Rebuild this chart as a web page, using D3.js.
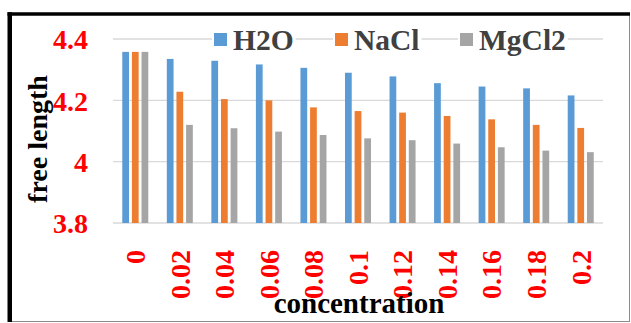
<!DOCTYPE html>
<html><head><meta charset="utf-8">
<script src="https://cdn.jsdelivr.net/npm/d3@7"></script>
<style>body{margin:0;background:#fff}svg{display:block}</style>
</head><body>
<script>
const categories = ["0","0.02","0.04","0.06","0.08","0.1","0.12","0.14","0.16","0.18","0.2"];
const seriesNames = ["H2O","NaCl","MgCl2"];
const h2o   = [4.358,4.335,4.329,4.317,4.306,4.290,4.278,4.256,4.245,4.239,4.216];
const nacl  = [4.358,4.228,4.204,4.200,4.177,4.165,4.160,4.149,4.138,4.120,4.110];
const mgcl2 = [4.358,4.120,4.109,4.098,4.087,4.076,4.070,4.059,4.047,4.036,4.031];
const yTicks = [3.8,4.0,4.2,4.4];
const colors = ["#5b9bd5","#ed7d31","#a5a5a5"];
const seriesVals = [h2o,nacl,mgcl2];

const W=631,H=323;
const svg=d3.select("body").append("svg").attr("width",W).attr("height",H);
const font="'Liberation Serif','Times New Roman',serif";

const x0=d3.scaleBand().domain(categories).range([113,603]).paddingInner(0.416).paddingOuter(0.208);
const x1=d3.scaleBand().domain(seriesNames).range([0,x0.bandwidth()]).paddingInner(0.3);
const y=d3.scaleLinear().domain([3.8,4.4]).range([223,39]);

// gridlines
svg.append("g").selectAll("line").data(yTicks).join("line")
  .attr("x1",113).attr("x2",603).attr("y1",d=>y(d)).attr("y2",d=>y(d))
  .attr("stroke","#d9d9d9").attr("stroke-width",1.3);

// bars
const g=svg.append("g");
seriesNames.forEach((s,si)=>{
  g.append("g").selectAll("rect").data(categories).join("rect")
    .attr("x",c=>x0(c)+x1(s)).attr("width",x1.bandwidth())
    .attr("y",(c,i)=>y(seriesVals[si][i]))
    .attr("height",(c,i)=>y(3.8)-y(seriesVals[si][i]))
    .attr("fill",colors[si]);
});

// y tick labels
const yAxis=d3.axisLeft(y).tickValues(yTicks).tickFormat(d=>d===4?"4":d3.format(".1f")(d)).tickSize(0).tickPadding(0);
const ya=svg.append("g").attr("transform","translate(88,0)").call(yAxis);
ya.select(".domain").remove();
ya.selectAll("text").attr("font-family",font).attr("font-weight","bold").attr("font-size",28).attr("fill","#ff0000").attr("dy","0.35em");

// x tick labels
const xAxis=d3.axisBottom(x0).tickSize(0).tickPadding(0);
const xa=svg.append("g").attr("transform","translate(0,250)").call(xAxis);
xa.select(".domain").remove();
xa.selectAll("text").attr("font-family",font).attr("font-weight","bold").attr("font-size",28).attr("fill","#ff0000")
  .attr("transform","rotate(-90)").attr("text-anchor","end").attr("x",0).attr("y",0).attr("dy","0.35em");

// axis titles
svg.append("text").attr("transform","translate(37,139) rotate(-90)").attr("text-anchor","middle").attr("dy","0.35em")
  .attr("font-family",font).attr("font-weight","bold").attr("font-size",28).attr("fill","#000").text("free length");
svg.append("text").attr("x",359).attr("y",313).attr("text-anchor","middle")
  .attr("font-family",font).attr("font-weight","bold").attr("font-size",29).attr("fill","#000").text("concentration");

// legend
const legX=[214,335,460];
const leg=svg.append("g");
seriesNames.forEach((s,i)=>{
  const it=leg.append("g");
  const bg=it.append("rect").attr("fill","#fff");
  it.append("rect").attr("x",legX[i]).attr("y",33).attr("width",13).attr("height",13).attr("fill",colors[i]);
  const t=it.append("text").attr("x",legX[i]+19).attr("y",49.5).attr("font-family",font).attr("font-weight","bold")
    .attr("font-size",29.5).attr("fill","#404040").text(s);
  const bb=t.node().getBBox();
  bg.attr("x",legX[i]-2).attr("y",30).attr("width",bb.x+bb.width-legX[i]+4).attr("height",20);
});

// frame
svg.append("line").attr("x1",629.5).attr("x2",629.5).attr("y1",13).attr("y2",321.5).attr("stroke","#8c8c8c").attr("stroke-width",1);
svg.append("line").attr("x1",9).attr("x2",630).attr("y1",321.5).attr("y2",321.5).attr("stroke","#8c8c8c").attr("stroke-width",1);
svg.append("line").attr("x1",7.5).attr("x2",630).attr("y1",14).attr("y2",14).attr("stroke","#000").attr("stroke-width",3.5);
svg.append("line").attr("x1",9.75).attr("x2",9.75).attr("y1",12.25).attr("y2",322).attr("stroke","#000").attr("stroke-width",4.5);
</script>
</body></html>
